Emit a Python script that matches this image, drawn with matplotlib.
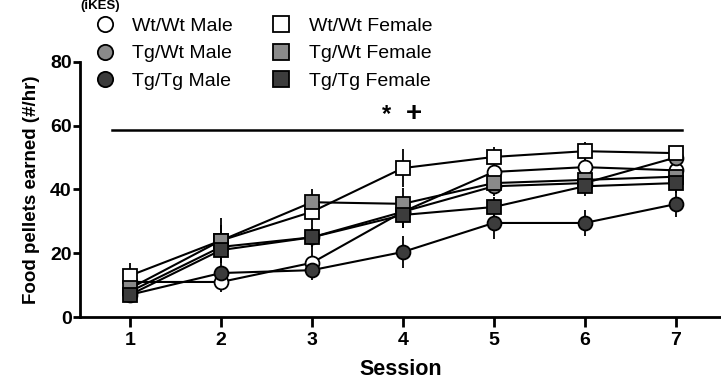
import matplotlib
matplotlib.use("Agg")
import matplotlib.pyplot as plt
import numpy as np

plt.rcParams["font.family"] = ["Liberation Sans", "DejaVu Sans"]

sessions = [1, 2, 3, 4, 5, 6, 7]
groups = ["Wt/Wt Male", "Tg/Wt Male", "Tg/Tg Male", "Wt/Wt Female", "Tg/Wt Female", "Tg/Tg Female"]
markers = ["o", "o", "o", "s", "s", "s"]
fills = ["white", "#8a8a8a", "#3c3c3c", "white", "#8a8a8a", "#3c3c3c"]

wtwt_male = [11, 11, 17, 33, 45.5, 47, 46]
tgwt_male = [8, 22, 25, 33, 41, 42, 50]
tgtg_male = [7, 13.8, 14.7, 20.4, 29.5, 29.5, 35.4]
wtwt_female = [13, 24, 33, 46.7, 50.2, 52, 51.4]
tgwt_female = [9, 24, 36, 35.5, 42, 43, 44]
tgtg_female = [7, 21, 25, 32, 34.5, 41, 42]

wtwt_male_err = [3, 3, 4, 5, 4, 3, 3]
tgwt_male_err = [3, 4, 4, 5, 3, 3, 3]
tgtg_male_err = [2, 4, 3, 5, 5, 4, 4]
wtwt_female_err = [4, 7, 4, 6, 3, 3, 2]
tgwt_female_err = [3, 5, 4, 5, 3, 3, 3]
tgtg_female_err = [2, 4, 3, 4, 3, 3, 3]

means = [wtwt_male, tgwt_male, tgtg_male, wtwt_female, tgwt_female, tgtg_female]
errs = [wtwt_male_err, tgwt_male_err, tgtg_male_err, wtwt_female_err, tgwt_female_err, tgtg_female_err]

fig = plt.figure(figsize=(7.21, 3.82), dpi=100)
ax = fig.add_axes([0.111, 0.170, 0.889, 0.668])

handles = []
for g, m, fc, y, e in zip(groups, markers, fills, means, errs):
    ax.errorbar(sessions, y, yerr=e, fmt="none", ecolor="black", elinewidth=1.3, capsize=0, zorder=2)
    h, = ax.plot(sessions, y, color="black", lw=1.5, marker=m, markersize=10,
                 markerfacecolor=fc, markeredgecolor="black", markeredgewidth=1.3,
                 zorder=3, label=g)
    handles.append(h)

# significance bar
ax.plot([0.8, 7.07], [58.6, 58.6], color="black", lw=1.8, clip_on=False)
ax.text(3.82, 60.0, "*", fontsize=17, fontweight="bold", ha="center", va="bottom")
ax.text(4.12, 59.6, "+", fontsize=20, fontweight="bold", ha="center", va="bottom")

ax.set_xlim(0.45, 7.5)
ax.set_ylim(0, 80)
ax.set_xticks(sessions)
ax.set_yticks([0, 20, 40, 60, 80])
for s in ["top", "right"]:
    ax.spines[s].set_visible(False)
for s in ["left", "bottom"]:
    ax.spines[s].set_linewidth(2)
ax.tick_params(axis="x", width=2, length=7, labelsize=14, pad=4)
ax.tick_params(axis="y", width=2, length=5, labelsize=14, pad=1)
for lab in ax.get_xticklabels() + ax.get_yticklabels():
    lab.set_fontweight("bold")
ax.set_xlabel("Session", fontsize=15.5, fontweight="bold", labelpad=7)
ax.set_ylabel("Food pellets earned (#/hr)", fontsize=13.5, fontweight="bold", labelpad=7)

leg = fig.legend(handles=[plt.Line2D([], [], ls="none", marker=h.get_marker(), markersize=11,
                                     markerfacecolor=h.get_markerfacecolor(), markeredgecolor="black",
                                     markeredgewidth=1.3) for h in handles],
                 labels=groups, ncol=2, loc="upper left", bbox_to_anchor=(0.105, 1.0),
                 frameon=False, fontsize=14, handletextpad=0.8, columnspacing=1.9,
                 labelspacing=0.5, handlelength=1.2)

fig.text(0.112, 1.0, "(iKES)", fontsize=9.5, fontweight="bold", ha="left", va="top")

fig.savefig("out.png", dpi=100)
